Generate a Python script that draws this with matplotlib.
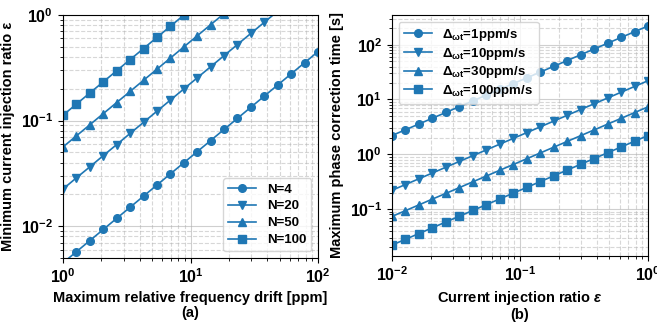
import matplotlib
matplotlib.use("Agg")
import matplotlib.pyplot as plt

FONT = 'Liberation Sans'
plt.rcParams['font.family'] = [FONT, 'DejaVu Sans']
plt.rcParams['font.weight'] = 'bold'
plt.rcParams['mathtext.fontset'] = 'custom'
plt.rcParams['mathtext.rm'] = FONT + ':bold'
plt.rcParams['mathtext.it'] = FONT + ':italic:bold'
plt.rcParams['mathtext.bf'] = FONT + ':bold'
plt.rcParams['mathtext.sf'] = FONT + ':bold'

# ---- panel (a) data ----
drift_ppm = [1.000, 1.274, 1.624, 2.069, 2.637, 3.360, 4.281, 5.456, 6.952, 8.859,
             11.29, 14.38, 18.33, 23.36, 29.76, 37.93, 48.33, 61.58, 78.48, 100.0]
eps_N4 = [0.0045, 0.00573, 0.00731, 0.00931, 0.01187, 0.01512, 0.01926, 0.02455, 0.03128, 0.03987,
          0.0508, 0.0647, 0.0825, 0.1051, 0.1339, 0.1707, 0.2175, 0.2771, 0.3532, 0.45]
eps_N20 = [0.0225, 0.0287, 0.0365, 0.0466, 0.0593, 0.0756, 0.0963, 0.1228, 0.1564, 0.1993,
           0.254, 0.3236, 0.4124, 0.5256, 0.6696, 0.8534, 1.087, 1.386, 1.766, 2.25]
eps_N50 = [0.0563, 0.0717, 0.0914, 0.1164, 0.1483, 0.189, 0.2408, 0.3069, 0.391, 0.4983,
           0.635, 0.809, 1.031, 1.314, 1.674, 2.134, 2.719, 3.464, 4.415, 5.625]
eps_N100 = [0.1125, 0.1433, 0.1827, 0.2328, 0.2967, 0.378, 0.4816, 0.6138, 0.782, 0.9966,
            1.27, 1.618, 2.062, 2.628, 3.348, 4.267, 5.437, 6.928, 8.829, 11.25]
labels_a = ['N=4', 'N=20', 'N=50', 'N=100']

# ---- panel (b) data ----
ratio_eps = [0.01, 0.01274, 0.01624, 0.02069, 0.02637, 0.0336, 0.04281, 0.05456, 0.06952, 0.08859,
             0.1129, 0.1438, 0.1833, 0.2336, 0.2976, 0.3793, 0.4833, 0.6158, 0.7848, 1.0]
t_1 = [2.2, 2.80, 3.57, 4.55, 5.80, 7.39, 9.42, 12.0, 15.29, 19.49,
       24.8, 31.6, 40.3, 51.4, 65.5, 83.4, 106.3, 135.5, 172.7, 220.0]
t_10 = [0.22, 0.280, 0.357, 0.455, 0.580, 0.739, 0.942, 1.20, 1.529, 1.949,
        2.48, 3.16, 4.03, 5.14, 6.55, 8.34, 10.63, 13.55, 17.27, 22.0]
t_30 = [0.0733, 0.0934, 0.119, 0.152, 0.193, 0.246, 0.314, 0.400, 0.510, 0.650,
        0.828, 1.054, 1.344, 1.713, 2.183, 2.781, 3.544, 4.516, 5.755, 7.33]
t_100 = [0.022, 0.0280, 0.0357, 0.0455, 0.0580, 0.0739, 0.0942, 0.120, 0.1529, 0.1949,
         0.248, 0.316, 0.403, 0.514, 0.655, 0.834, 1.063, 1.355, 1.727, 2.2]
labels_b = [r'$\Delta_{\mathrm{\omega t}}$=1ppm/s', r'$\Delta_{\mathrm{\omega t}}$=10ppm/s',
            r'$\Delta_{\mathrm{\omega t}}$=30ppm/s', r'$\Delta_{\mathrm{\omega t}}$=100ppm/s']

markers = ['o', 'v', '^', 's']
color = '#1f77b4'

fig = plt.figure(figsize=(6.57, 3.22), dpi=100)
ax1 = fig.add_axes([63/657, 1-258/322, 255/657, 243/322])
ax2 = fig.add_axes([392/657, 1-256/322, 256/657, 241/322])

for ys, m, lab in zip([eps_N4, eps_N20, eps_N50, eps_N100], markers, labels_a):
    ax1.plot(drift_ppm, ys, marker=m, color=color, ms=5.5, lw=1.2, label=lab)
ax1.set_xscale('log'); ax1.set_yscale('log')
ax1.set_xlim(1, 100); ax1.set_ylim(0.005, 1)
ax1.set_xlabel('Maximum relative frequency drift [ppm]\n(a)', fontsize=10.5, fontweight='bold', linespacing=1.1, labelpad=3)
ax1.set_ylabel('Minimum current injection ratio ε', fontsize=10.5, fontweight='bold', labelpad=4)
ax1.legend(loc='lower right', prop={'weight': 'bold', 'size': 9.5}, labelspacing=0.35, handlelength=2.1)

for ys, m, lab in zip([t_1, t_10, t_30, t_100], markers, labels_b):
    ax2.plot(ratio_eps, ys, marker=m, color=color, ms=5.5, lw=1.2, label=lab)
ax2.set_xscale('log'); ax2.set_yscale('log')
ax2.set_xlim(0.01, 1)
ax2.set_xlabel('Current injection ratio $\\varepsilon$\n(b)', fontsize=10.5, fontweight='bold', linespacing=1.1, labelpad=3)
ax2.set_ylabel('Maximum phase correction time [s]', fontsize=10.5, fontweight='bold', labelpad=4)
ax2.legend(loc='upper left', prop={'weight': 'bold', 'size': 9.5}, labelspacing=0.2, handlelength=2.1)

for ax in (ax1, ax2):
    ax.grid(True, which='major', ls='-', color='#b0b0b0', alpha=0.6)
    ax.grid(True, which='minor', ls='--', color='#b0b0b0', alpha=0.5)
    ax.tick_params(labelsize=11.5)

fig.savefig('out.png', dpi=100)
